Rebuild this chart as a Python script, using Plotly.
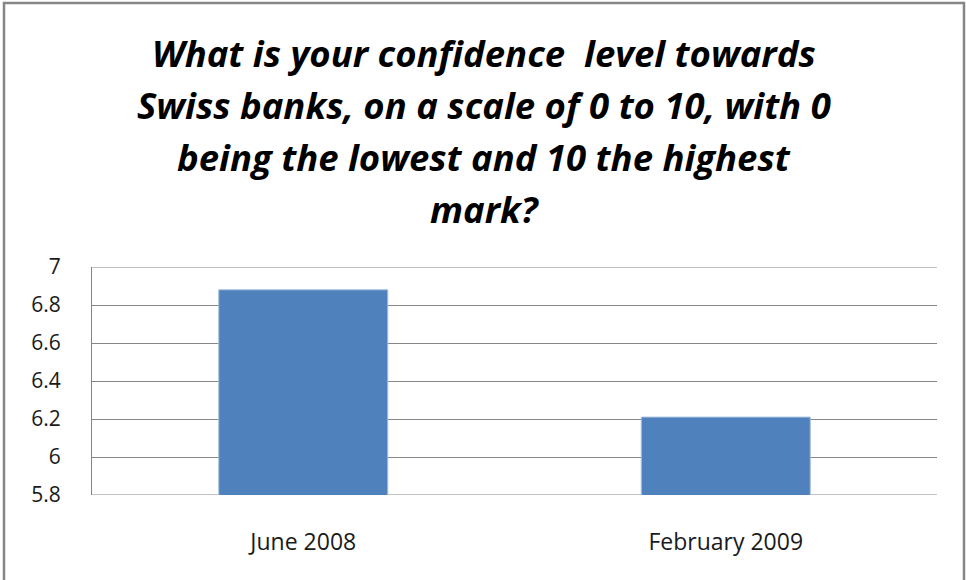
import plotly.graph_objects as go

categories = ["June 2008", "February 2009"]
values = [6.88, 6.21]
y_ticks = [5.8, 6, 6.2, 6.4, 6.6, 6.8, 7]
y_tick_labels = ["5.8", "6", "6.2", "6.4", "6.6", "6.8", "7"]
title_lines = [
    "What is your confidence  level towards",
    "Swiss banks, on a scale of 0 to 10, with 0",
    "being the lowest and 10 the highest",
    "mark?",
]

W, H = 966, 580
L, R, T, B = 92, 29, 267, 85
pw, ph = W - L - R, H - T - B

def px_x(x):
    return (x - L) / pw

def px_y(y):
    return (H - B - y) / ph

fig = go.Figure()
fig.add_trace(go.Bar(
    x=categories, y=values,
    marker=dict(color="#4F81BD", line=dict(color="#A7BFDE", width=1)),
    width=0.4,
))

# edge gridlines (plotly omits gridlines on the plot-area border)
for v in (y_ticks[0], y_ticks[-1]):
    fig.add_hline(y=v, line=dict(color="#868686", width=1), layer="below")

title_centers = [53, 105, 157, 209]
for line, yc in zip(title_lines, title_centers):
    fig.add_annotation(
        text="<b><i>" + line + "</i></b>", showarrow=False,
        xref="paper", yref="paper", x=px_x(484), y=px_y(yc),
        xanchor="center", yanchor="middle",
        font=dict(family="Open Sans", size=36.5, color="#000000"),
    )

fig.add_shape(type="rect", xref="paper", yref="paper",
              x0=px_x(4), x1=px_x(964), y0=px_y(590), y1=px_y(3),
              line=dict(color="#868686", width=2.5), fillcolor="rgba(0,0,0,0)", layer="above")

fig.update_layout(
    width=W, height=H,
    margin=dict(l=L, r=R, t=T, b=B),
    paper_bgcolor="white", plot_bgcolor="white",
    showlegend=False,
    font=dict(family="Open Sans", size=17, color="#1a1a1a"),
)
fig.update_yaxes(
    range=[5.8, 7], tickvals=y_ticks, ticktext=y_tick_labels,
    showgrid=True, gridcolor="#868686", gridwidth=1,
    showline=True, linecolor="#868686", linewidth=1,
    zeroline=False, ticks="", ticklabelstandoff=26,
    tickfont=dict(family="Open Sans", size=21, color="#1a1a1a"),
)
fig.update_xaxes(
    showgrid=False, showline=False, ticks="", ticklabelstandoff=31,
    tickfont=dict(family="Open Sans", size=23, color="#1a1a1a"),
)

fig.write_html("out.html", config={"displayModeBar": False},
               post_script="document.body.style.margin='0';document.body.style.overflow='hidden';")
